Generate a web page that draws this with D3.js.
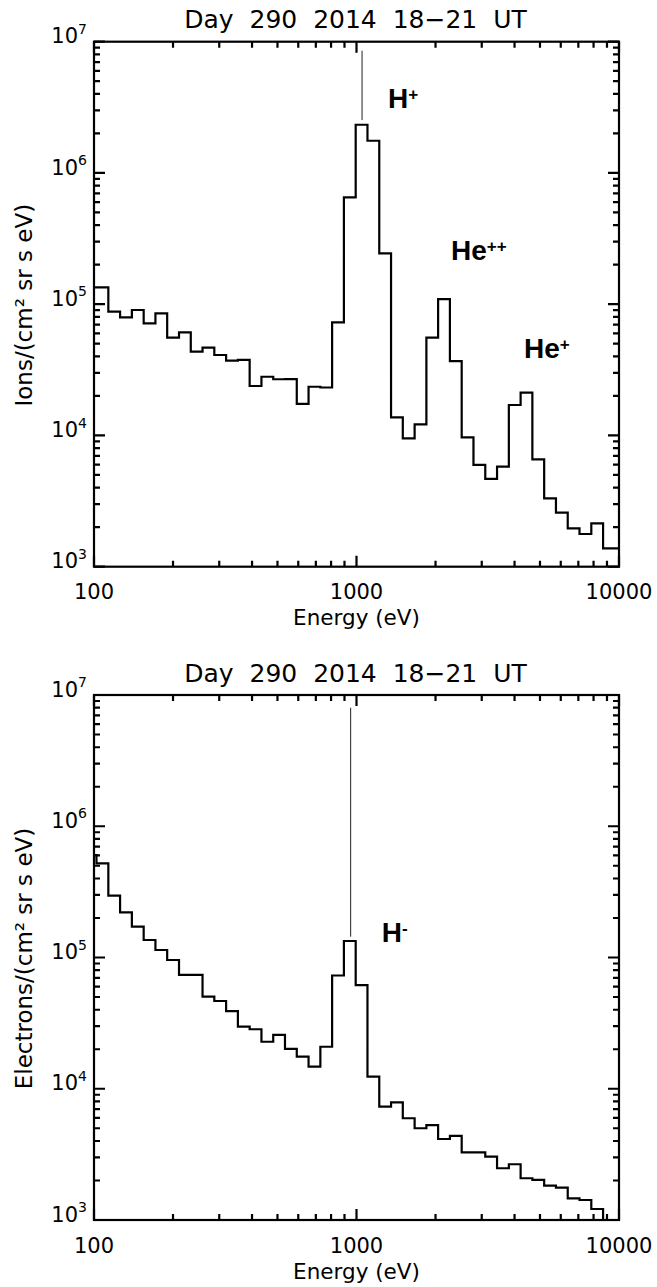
<!DOCTYPE html>
<html><head><meta charset="utf-8">
<script src="https://cdn.jsdelivr.net/npm/d3@7"></script>
<style>
html,body{margin:0;padding:0;background:#fff;}
svg{display:block;}
text{font-family:"DejaVu Sans",sans-serif;fill:#000;}
.lab{font-family:"Liberation Sans",Arial,sans-serif;font-weight:bold;}
</style></head>
<body>
<script>
// Energy bin edges (eV), shared by both spectra
const binEdges = [92.2, 102.2, 113.4, 125.7, 139.4, 154.6, 171.4, 190.0, 210.8, 233.7, 259.1,
  287.3, 318.6, 353.3, 391.7, 434.4, 481.7, 534.0, 592.2, 656.7, 728.3, 807.4, 895.4, 992.9,
  1101, 1221, 1354, 1501, 1665, 1846, 2046, 2269, 2516, 2790, 3094, 3431, 3805, 4219, 4677,
  5187, 5752, 6378, 7072, 7843, 8697, 9643, 10693];

// Ion flux per bin
const ionFlux = [134500, 134500, 87700, 79500, 90300, 71500, 85200, 55600, 61100, 43500,
  46600, 41000, 37100, 37600, 23800, 28000, 26800, 26900, 17400, 23500,
  23200, 72800, 652000, 2330000, 1760000, 244000, 13750, 9510, 12160, 55600,
  109500, 36900, 9680, 5960, 4660, 5780, 17060, 21170, 6580, 3320,
  2580, 1960, 1775, 2140, 1381, 1381];

// Electron flux per bin
const electronFlux = [603900, 521900, 295800, 221000, 171700, 135900, 114100, 95700, 73600, 73600,
  50300, 46600, 39100, 29700, 28400, 22800, 25700, 20100, 17540, 14720,
  20900, 72900, 133600, 61700, 12350, 7300, 7880, 5960, 5000, 5290,
  4140, 4370, 3280, 3280, 3040, 2480, 2660, 2080, 2020, 1825,
  1762, 1463, 1420, 1213, 900, 900];

const xDomain = [100, 10000];
const yDomain = [1e3, 1e7];
const xDecades = [100, 1000];
const yDecades = [1e3, 1e4, 1e5, 1e6];
const tickMultipliers = [1, 2, 3, 4, 5, 6, 7, 8, 9];
const xTickLabels = ["100", "1000", "10000"];
const yTickExps = [3, 4, 5, 6, 7];
const titleText = "Day\u00A0\u00A0290\u00A0\u00A02014\u00A0\u00A018\u221221\u00A0\u00A0UT";

// Marker lines: [energy, top value, bottom value]
const ionMarker = [1050, 8.54e6, 2.53e6];
const electronMarker = [950, 8.0e6, 1.44e5];

// Species labels: [text, superscript, energy, value]
const ionLabels = [["H", "+", 1318, 3.1e6], ["He", "++", 2291, 2.17e5], ["He", "+", 4345, 3.87e4]];
const electronLabels = [["H", "-", 1247, 1.32e5]];

const W = 657, H = 1287;
const svg = d3.select("body").append("svg").attr("width", W).attr("height", H);

function tickList(decades, last) {
  const out = [];
  decades.forEach(d => tickMultipliers.forEach(m => out.push({v: d * m, major: m === 1})));
  out.push({v: last, major: true});
  return out;
}

function panel(top, flux, marker, labels, ylabel, id) {
  const x0 = 94, x1 = 619, y0 = top, y1 = top + 525;
  const x = d3.scaleLog().domain(xDomain).range([x0, x1]);
  const y = d3.scaleLog().domain(yDomain).range([y1, y0]);
  const g = svg.append("g");

  g.append("clipPath").attr("id", "clip" + id).append("rect")
    .attr("x", x0).attr("y", y0).attr("width", x1 - x0).attr("height", y1 - y0);

  // histogram
  const pts = flux.map((v, i) => [binEdges[i], v]);
  pts.push([binEdges[flux.length], flux[flux.length - 1]]);
  const line = d3.line().x(d => x(d[0])).y(d => y(d[1])).curve(d3.curveStepAfter);
  g.append("path").attr("d", line(pts)).attr("fill", "none").attr("stroke", "#000")
    .attr("stroke-width", 2.2).attr("stroke-linejoin", "miter").attr("clip-path", `url(#clip${id})`);

  // marker line
  g.append("line").attr("x1", x(marker[0])).attr("x2", x(marker[0]))
    .attr("y1", y(marker[1])).attr("y2", y(marker[2]))
    .attr("stroke", "#222").attr("stroke-width", 1);

  // frame
  g.append("rect").attr("x", x0).attr("y", y0).attr("width", x1 - x0).attr("height", y1 - y0)
    .attr("fill", "none").attr("stroke", "#000").attr("stroke-width", 2.2);

  // inward ticks, drawn as one path
  const xt = tickList(xDecades, 10000);
  const yt = tickList(yDecades, 1e7);
  const len = d => d.major ? 11 : 6;
  const p = d3.path();
  xt.forEach(d => {
    const px = x(d.v);
    p.moveTo(px, y1); p.lineTo(px, y1 - len(d));
    p.moveTo(px, y0); p.lineTo(px, y0 + len(d));
  });
  yt.forEach(d => {
    const py = y(d.v);
    p.moveTo(x0, py); p.lineTo(x0 + len(d), py);
    p.moveTo(x1, py); p.lineTo(x1 - len(d), py);
  });
  g.append("path").attr("d", p.toString()).attr("fill", "none")
    .attr("stroke", "#000").attr("stroke-width", 2.2);

  // x tick labels
  xTickLabels.forEach(t => {
    g.append("text").attr("x", x(+t)).attr("y", y1 + 32.5).attr("text-anchor", "middle")
      .attr("font-size", 21).text(t);
  });
  // y tick labels
  yTickExps.forEach(e => {
    const t = g.append("text").attr("x", x0 - 7).attr("y", y(Math.pow(10, e)) + 1.6)
      .attr("text-anchor", "end").attr("font-size", 21);
    t.append("tspan").text("10");
    t.append("tspan").attr("font-size", 14).attr("dy", -9.5).text(String(e));
  });

  // title
  g.append("text").attr("x", (x0 + x1) / 2 - 1).attr("y", y0 - 13.4).attr("text-anchor", "middle")
    .attr("font-size", 25).text(titleText);
  // x label
  g.append("text").attr("x", (x0 + x1) / 2).attr("y", y1 + 58.5).attr("text-anchor", "middle")
    .attr("font-size", 21.5).text("Energy (eV)");
  // y label
  const cy = (y0 + y1) / 2 + 1;
  g.append("text").attr("transform", `translate(32,${cy}) rotate(-90)`).attr("text-anchor", "middle")
    .attr("font-size", 23).text(ylabel);

  // species labels
  labels.forEach(l => {
    const t = g.append("text").attr("class", "lab").attr("x", x(l[2])).attr("y", y(l[3]))
      .attr("font-size", 28);
    t.append("tspan").text(l[0]);
    t.append("tspan").attr("font-size", 17).attr("dy", -8).text(l[1]);
  });
}

panel(41.7, ionFlux, ionMarker, ionLabels, "Ions/(cm\u00B2 sr s eV)", "a");
panel(695, electronFlux, electronMarker, electronLabels, "Electrons/(cm\u00B2 sr s eV)", "b");
</script>
</body></html>
